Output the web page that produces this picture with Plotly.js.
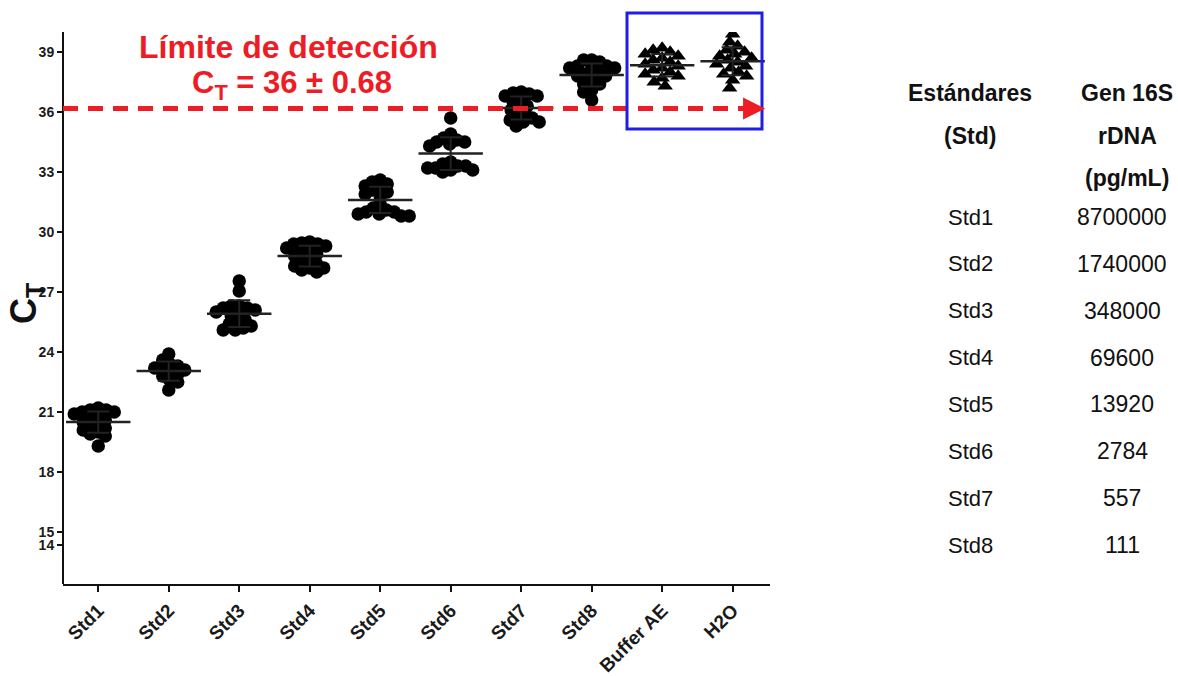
<!DOCTYPE html>
<html>
<head>
<meta charset="utf-8">
<script src="https://cdn.plot.ly/plotly-3.0.1.min.js"></script>
<style>html,body{margin:0;padding:0;background:#fff;}#chart{width:1178px;height:676px;}</style>
</head>
<body>
<div id="chart"></div>
<script>
// ---------- DATA ----------
const categories = ['Std1','Std2','Std3','Std4','Std5','Std6','Std7','Std8','Buffer AE','H2O'];
const ctStd1 = [21.2,21.1,21.1,21.0,21.0,20.9,20.8,20.7,20.6,20.5,20.4,20.3,20.2,20.1,20.0,19.9,19.8,19.3];
const ctStd2 = [23.9,23.6,23.4,23.3,23.2,23.2,23.1,23.0,22.9,22.8,22.6,22.5,22.1];
const ctStd3 = [27.55,27.05,26.3,26.3,26.2,26.2,26.1,26.0,25.9,25.8,25.6,25.5,25.4,25.3,25.2,25.1,25.1];
const ctStd4 = [29.5,29.45,29.4,29.4,29.3,29.2,29.1,29.0,28.9,28.8,28.6,28.5,28.4,28.3,28.2,28.2,28.1,28.0];
const ctStd5 = [32.6,32.5,32.4,32.3,32.2,32.1,32.0,31.9,31.8,31.4,31.2,31.1,31.0,31.0,30.9,30.9,30.8,30.8];
const ctStd6 = [35.7,34.9,34.7,34.6,34.5,34.5,34.4,34.3,33.5,33.4,33.3,33.3,33.2,33.2,33.1,33.1,33.0];
const ctStd7 = [37.0,36.95,36.9,36.8,36.8,36.6,36.5,36.3,36.2,36.1,35.9,35.8,35.7,35.6,35.5,35.5,35.3];
const ctStd8 = [38.6,38.6,38.5,38.3,38.3,38.2,38.2,38.2,37.9,37.9,37.8,37.8,37.5,37.4,37.4,37.1,37.0,36.6];
const ctBufferAE = [39.2,39.1,39.0,38.9,38.8,38.7,38.6,38.5,38.4,38.3,38.2,38.1,38.0,37.9,37.8,37.7,37.5,37.3];
const ctH2O = [39.9,39.5,39.3,39.1,39.0,38.9,38.8,38.7,38.6,38.5,38.4,38.3,38.2,38.0,37.9,37.8,37.6,37.2];

const yTicksUpper = [15,18,21,24,27,30,33,36,39];
const yTicksLower = [14];

const limitLineCT = 36.17;
const limitText1 = 'Límite de detección';
const limitText2 = 'C<sub>T</sub> = 36 ± 0.68';

const tableHeadStd = ['Estándares','(Std)'];
const tableHeadGen = ['Gen 16S','rDNA','(pg/mL)'];
const tableStd = ['Std1','Std2','Std3','Std4','Std5','Std6','Std7','Std8'];
const tableConc = ['8700000','1740000','348000','69600','13920','2784','557','111'];

// ---------- LAYOUT GEOMETRY ----------
const W = 1178, H = 676;
const mL = 63, mR = 408, mT = 32, mB = 92;
const plotW = W - mL - mR, plotH = H - mT - mB;
const px2px = x => (x - mL) / plotW;          // pixel x -> paper x
const py2py = y => (H - mB - y) / plotH;      // pixel y -> paper y

const xRange = [-0.5, 9.53];
const upperRange = [15, 40];
const lowerRange = [12.05, 14];
const upperDomain = [py2py(532), 1];
const lowerDomain = [0, py2py(545)];

const groups = [ctStd1,ctStd2,ctStd3,ctStd4,ctStd5,ctStd6,ctStd7,ctStd8,ctBufferAE,ctH2O];
const symbols = ['circle','circle','circle','circle','circle','circle','circle','circle','triangle-up','triangle-up'];

// beeswarm offsets (pixel-based, converted to axis units)
const pxPerX = plotW / (xRange[1] - xRange[0]);
const pxPerY = (upperDomain[1] - upperDomain[0]) * plotH / (upperRange[1] - upperRange[0]);
function swarm(values, diam) {
  const order = values.map((v, i) => i).sort((a, b) => values[b] - values[a]);
  const placed = [];
  const off = new Array(values.length);
  for (const i of order) {
    const y = values[i] * pxPerY;
    let best = 0;
    for (let k = 0; k < 400; k++) {
      const cand = (k % 2 === 0 ? 1 : -1) * Math.ceil(k / 2);
      if (placed.every(p => Math.hypot(p.x - cand, p.y - y) >= diam)) { best = cand; break; }
    }
    placed.push({x: best, y: y});
    off[i] = best / pxPerX;
  }
  return off;
}

const traces = [];
groups.forEach((vals, g) => {
  const off = swarm(vals, symbols[g] === 'circle' ? 8 : 8.5);
  traces.push({
    type: 'scatter', mode: 'markers',
    x: vals.map((v, i) => g + off[i]), y: vals,
    xaxis: 'x', yaxis: 'y',
    marker: {symbol: symbols[g], size: 13.5, color: '#000', line: {width: 0}},
    showlegend: false, hoverinfo: 'y'
  });
});

const means = groups.map(v => v.reduce((a, b) => a + b, 0) / v.length);
const sds = groups.map((v, g) => Math.sqrt(v.reduce((a, b) => a + (b - means[g]) ** 2, 0) / (v.length - 1)));
traces.push({
  type: 'scatter', mode: 'markers',
  x: categories.map((c, i) => i), y: means,
  marker: {symbol: 'line-ew', size: 46, color: '#000', line: {width: 2.5, color: '#222'}},
  error_y: {type: 'data', array: sds, visible: true, color: '#222', thickness: 2, width: 11},
  showlegend: false, hoverinfo: 'y'
});
// empty trace so the lower (broken) segment of the y axis is drawn
traces.push({type: 'scatter', mode: 'markers', x: [], y: [], xaxis: 'x', yaxis: 'y2', showlegend: false, hoverinfo: 'skip'});

const font = 'Arial, "Liberation Sans", sans-serif';

const annotations = [
  {xref: 'paper', yref: 'paper', x: px2px(288), y: py2py(47), text: limitText1, showarrow: false,
   font: {family: font, size: 32, color: '#ee1c25', weight: 700}, xanchor: 'center', yanchor: 'middle'},
  {xref: 'paper', yref: 'paper', x: px2px(292), y: py2py(85), text: limitText2, showarrow: false,
   font: {family: font, size: 31, color: '#ee1c25', weight: 700}, xanchor: 'center', yanchor: 'middle'},
  {xref: 'x', yref: 'y', axref: 'x', ayref: 'y', x: 9.46, y: limitLineCT, ax: 9.2, ay: limitLineCT,
   text: '', showarrow: true, arrowhead: 2, arrowsize: 1.1, arrowwidth: 4, arrowcolor: '#ee1c25'},
  {xref: 'paper', yref: 'paper', x: px2px(26), y: py2py(303), text: 'C<sub>T</sub>', showarrow: false,
   textangle: -90, font: {family: font, size: 36, color: '#111', weight: 700}, xanchor: 'center', yanchor: 'middle'}
];
tableHeadStd.forEach((t, i) => annotations.push({xref: 'paper', yref: 'paper', x: px2px(970), y: py2py(93 + i * 42.5),
  text: t, showarrow: false, font: {family: font, size: 23, color: '#111', weight: 700}, xanchor: 'center', yanchor: 'middle'}));
tableHeadGen.forEach((t, i) => annotations.push({xref: 'paper', yref: 'paper', x: px2px(1127), y: py2py(93 + i * 42.5),
  text: t, showarrow: false, font: {family: font, size: 23, color: '#111', weight: 700}, xanchor: 'center', yanchor: 'middle'}));
tableStd.forEach((t, i) => annotations.push({xref: 'paper', yref: 'paper', x: px2px(970), y: py2py(217 + i * 46.86),
  text: t, showarrow: false, font: {family: font, size: 22, color: '#111'}, xanchor: 'center', yanchor: 'middle'}));
tableConc.forEach((t, i) => annotations.push({xref: 'paper', yref: 'paper', x: px2px(1122), y: py2py(217 + i * 46.86),
  text: t, showarrow: false, font: {family: font, size: 23, color: '#111'}, xanchor: 'center', yanchor: 'middle'}));

const shapes = [
  // y axis line (continuous across break)
  {type: 'line', xref: 'paper', yref: 'paper', x0: 0, x1: 0, y0: 0, y1: 1, line: {color: '#111', width: 2}},
  // detection limit dashed line
  {type: 'line', xref: 'x', yref: 'y', x0: xRange[0], x1: 9.25, y0: limitLineCT, y1: limitLineCT,
   line: {color: '#ee1c25', width: 5, dash: '15px,10px'}},
  // blue box around negative controls
  {type: 'rect', xref: 'paper', yref: 'paper', x0: px2px(627), x1: px2px(762), y0: py2py(129), y1: py2py(13),
   line: {color: '#1e1ee6', width: 3}, fillcolor: 'rgba(0,0,0,0)'}
];

const tickFont = {family: font, size: 14, color: '#1a1a1a', weight: 700};
const layout = {
  width: W, height: H,
  margin: {l: mL, r: mR, t: mT, b: mB, pad: 0},
  paper_bgcolor: '#fff', plot_bgcolor: 'rgba(0,0,0,0)',
  showlegend: false,
  xaxis: {type: 'linear', range: xRange, anchor: 'y2', showline: true, linecolor: '#111', linewidth: 2,
    tickvals: categories.map((c, i) => i), ticktext: categories, tickangle: -45,
    ticks: 'outside', ticklen: 6, tickwidth: 2, tickcolor: '#111', showgrid: false, zeroline: false,
    tickfont: {family: font, size: 19, color: '#1a1a1a', weight: 700}},
  yaxis: {domain: upperDomain, range: upperRange, anchor: 'x', tickvals: yTicksUpper,
    ticks: 'outside', ticklen: 5, tickwidth: 2, tickcolor: '#111', showgrid: false, zeroline: false,
    showline: false, tickfont: tickFont},
  yaxis2: {domain: lowerDomain, range: lowerRange, anchor: 'x', tickvals: yTicksLower,
    ticks: 'outside', ticklen: 5, tickwidth: 2, tickcolor: '#111', showgrid: false, zeroline: false,
    showline: false, tickfont: tickFont},
  annotations: annotations,
  shapes: shapes
};

Plotly.newPlot('chart', traces, layout, {displayModeBar: false, staticPlot: true});
</script>
</body>
</html>
